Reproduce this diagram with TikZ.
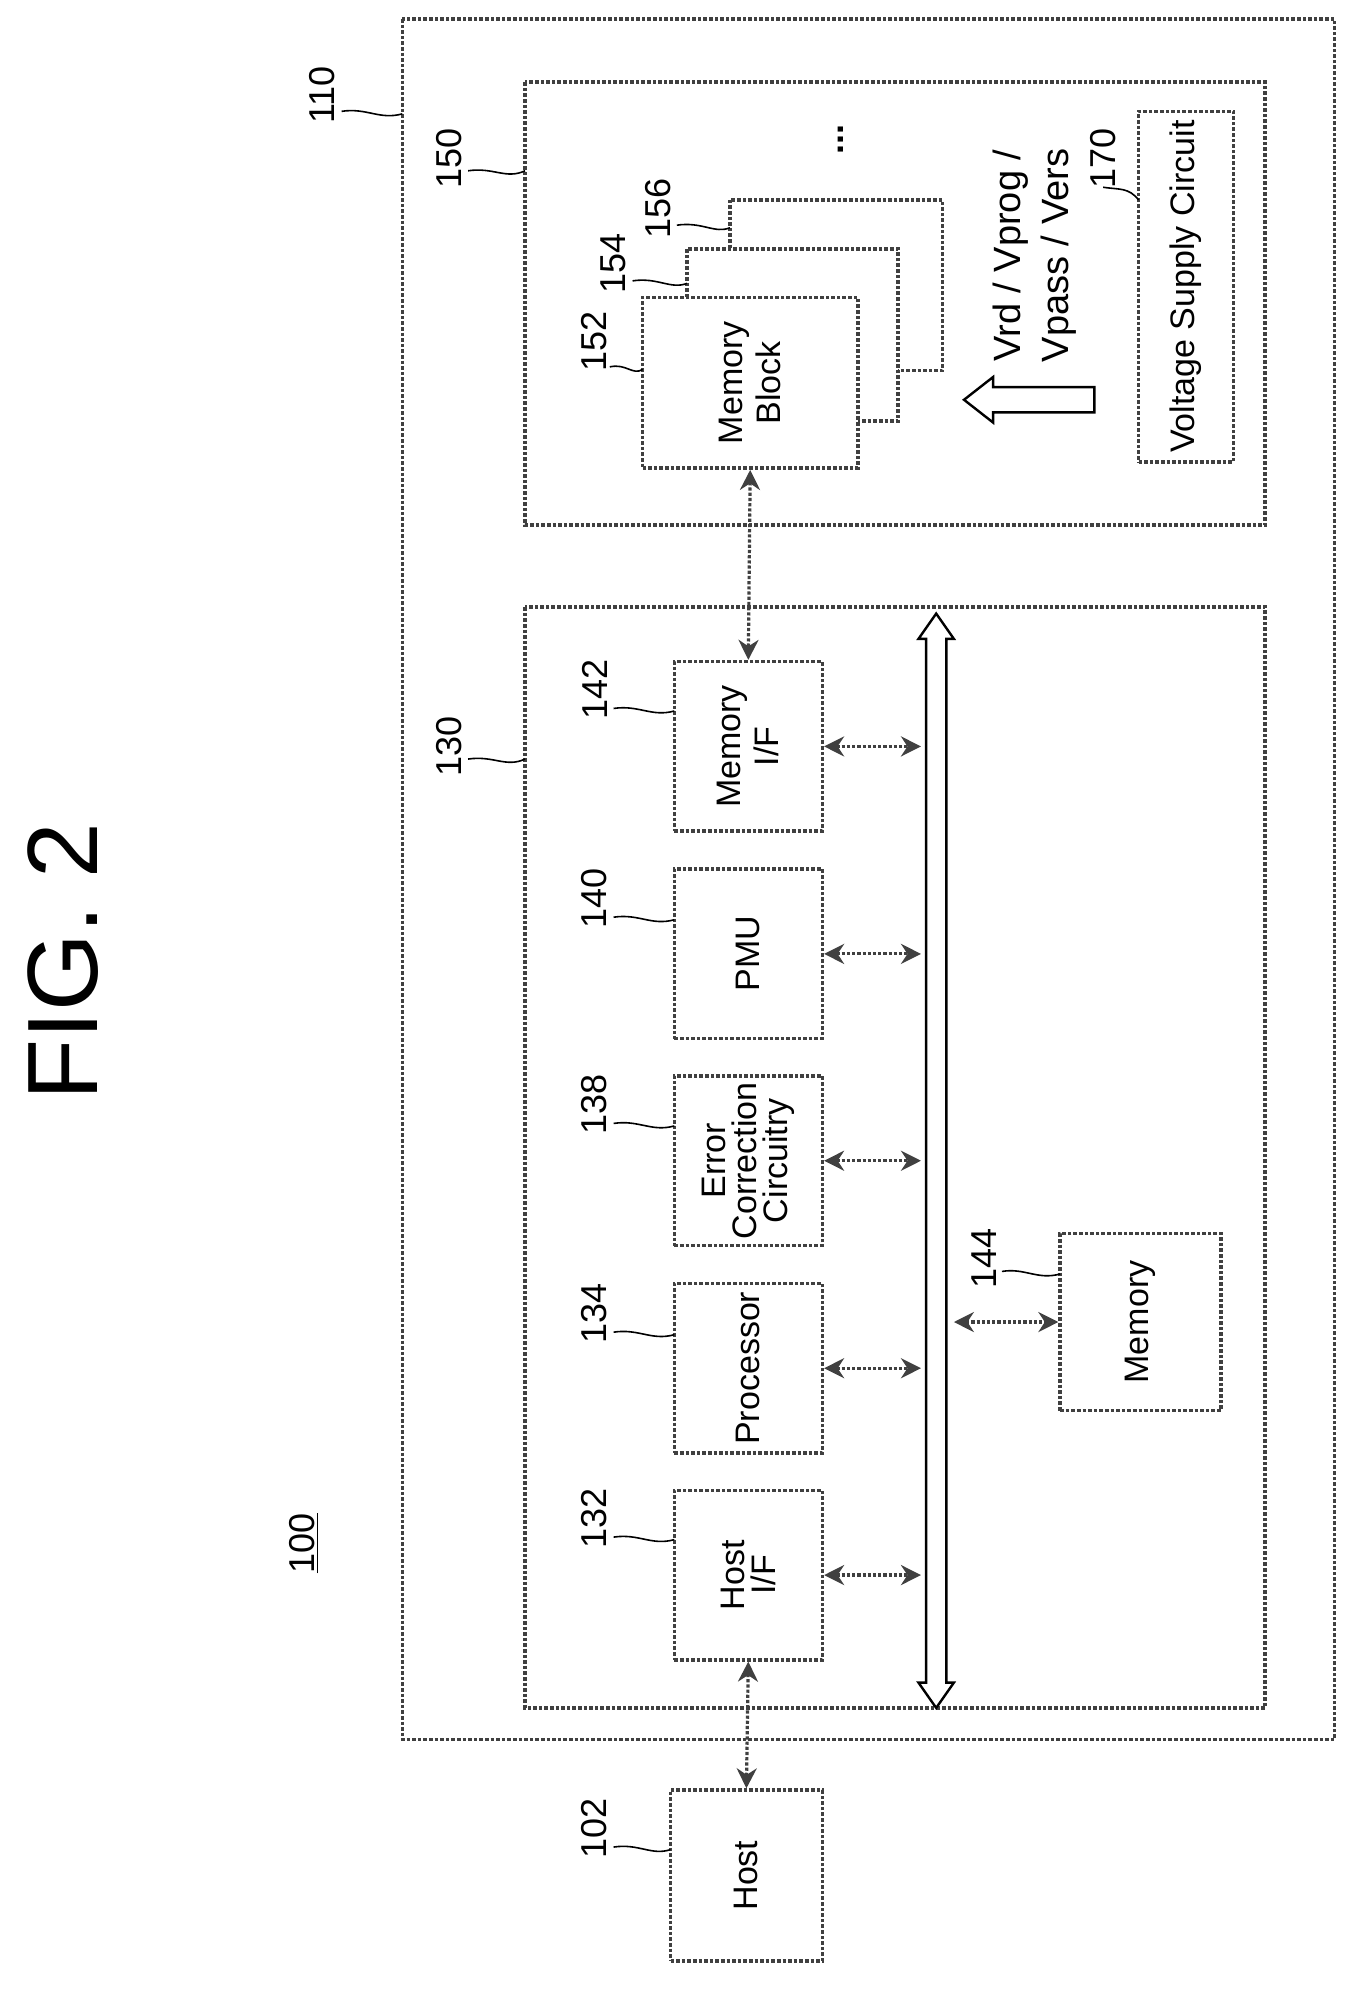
\documentclass[tikz,border=0pt]{standalone}
\usepackage{fontspec}
\setmainfont{Liberation Sans}
\usetikzlibrary{arrows.meta}
\begin{document}
\begin{tikzpicture}[x=0.6325pt,y=-0.6325pt,
 bx/.style={draw=black!75,densely dotted,line width=1.8pt},
 blk/.style={bx,fill=white,inner sep=0pt,font=\fontsize{17}{18}\selectfont},
 lab/.style={font=\fontsize{18}{18}\selectfont,inner sep=1pt},
 ar/.style={line width=1.6pt,black!75,densely dotted,{Stealth[length=10pt,width=10pt]}-{Stealth[length=10pt,width=10pt]}},
 ld/.style={line width=0.8pt}]
\useasboundingbox (0,0) rectangle (1075,1573);
\newcommand{\rt}[1]{\rotatebox{90}{\shortstack{#1}}}
\node[rotate=90,font=\fontsize{50}{50}\selectfont] (fig) at (50,760) {FIG. 2};
\node[rotate=90,lab] (l100) at (240,1220) {\underline{100}};
% boxes
\draw[bx] (318,15) rectangle (1055,1375);
\draw[bx] (415,480) rectangle (1000,1350);
\draw[bx] (415,65) rectangle (1000,415);
\node[rotate=90,lab] (l110) at (255,75) {110};
\draw[ld] (270,88) .. controls (290,85) and (300,95) .. (318,90);
\node[rotate=90,lab] (l130) at (355,590) {130};
\draw[ld] (370,600) .. controls (390,597) and (400,607) .. (415,600);
\node[rotate=90,lab] (l150) at (355,125) {150};
\draw[ld] (370,135) .. controls (390,132) and (400,142) .. (415,135);
% memory block stack
\draw[bx,fill=white] (577,158) rectangle (745,293);
\draw[bx,fill=white] (543,197) rectangle (710,333);
\node[blk,minimum width=170*0.6325pt,minimum height=135*0.6325pt] (mb) at (593,302.5) {\rt{Memory\\Block}};
\node[rotate=90,lab] (l152) at (470,270) {152};
\draw[ld] (482,290) .. controls (495,287) and (500,297) .. (508,292);
\node[rotate=90,lab] (l154) at (485,208) {154};
\draw[ld] (500,222) .. controls (520,219) and (530,229) .. (543,224);
\node[rotate=90,lab] (l156) at (520,165) {156};
\draw[ld] (535,178) .. controls (555,175) and (565,185) .. (577,180);
\node[rotate=90,font=\fontsize{18}{18}\selectfont\bfseries] (dots) at (665,110) {...};
% voltage arrow
\draw[line width=1.2pt] (865,306) -- (785,306) -- (785,298) -- (762,316) -- (785,334) -- (785,326) -- (865,326) -- cycle;
\node[rotate=90,font=\fontsize{19}{24}\selectfont,align=center] (vtxt) at (818,202) {Vrd / Vprog /\\Vpass / Vers};
\node[blk,minimum width=75*0.6325pt,minimum height=277*0.6325pt] (vsc) at (937.5,226.5) {\rotatebox{90}{Voltage Supply Circuit}};
\node[rotate=90,lab] (l170) at (872,125) {170};
\draw[ld] (872,148) .. controls (885,150) and (892,148) .. (900,158);
% controller blocks
\def\bw{117*0.6325pt}\def\bh{134*0.6325pt}
\node[blk,minimum width=\bw,minimum height=\bh] (hif) at (591.5,1245) {\rt{Host\\I/F}};
\node[blk,minimum width=\bw,minimum height=\bh] (proc) at (591.5,1081.5) {\rt{Processor}};
\node[blk,minimum width=\bw,minimum height=\bh] (ecc) at (591.5,917.5) {\rt{Error\\Correction\\Circuitry}};
\node[blk,minimum width=\bw,minimum height=\bh] (pmu) at (591.5,754) {\rt{PMU}};
\node[blk,minimum width=\bw,minimum height=\bh] (mif) at (591.5,590) {\rt{Memory\\I/F}};
\node[blk,minimum width=127*0.6325pt,minimum height=140*0.6325pt] (mem) at (901.5,1045) {\rt{Memory}};
\foreach \n/\y/\t in {l132/1200/132,l134/1038/134,l138/873/138,l140/710/140,l142/545/142}{
 \node[rotate=90,lab] (\n) at (470,\y) {\t};
 \draw[ld] (485,\y+15) .. controls (505,\y+12) and (515,\y+22) .. (533,\y+17);}
\node[rotate=90,lab] (l144) at (778,995) {144};
\draw[ld] (792,1005) .. controls (810,1002) and (820,1012) .. (838,1007);
% host
\node[blk,minimum width=120*0.6325pt,minimum height=135*0.6325pt] (host) at (590,1482.5) {\rt{Host}};
\node[rotate=90,lab] (l102) at (470,1445) {102};
\draw[ld] (485,1460) .. controls (505,1457) and (515,1467) .. (530,1462);
% bus
\draw[line width=1.2pt] (732,505) -- (726,505) -- (740,485) -- (754,505) -- (748,505) -- (748,1330) -- (754,1330) -- (740,1350) -- (726,1330) -- (732,1330) -- cycle;
\coordinate (b1) at (728,1245);\coordinate (b2) at (728,1081.5);\coordinate (b3) at (728,917.5);
\coordinate (b4) at (728,754);\coordinate (b5) at (728,590);\coordinate (b6) at (754,1045);
\draw[ar] (hif.east) -- (b1);
\draw[ar] (proc.east) -- (b2);
\draw[ar] (ecc.east) -- (b3);
\draw[ar] (pmu.east) -- (b4);
\draw[ar] (mif.east) -- (b5);
\draw[ar] (b6) -- (mem.west);
\draw[ar] (mb.south) -- (mif.north);
\draw[ar] (host.north) -- (hif.south);
\end{tikzpicture}
\end{document}
